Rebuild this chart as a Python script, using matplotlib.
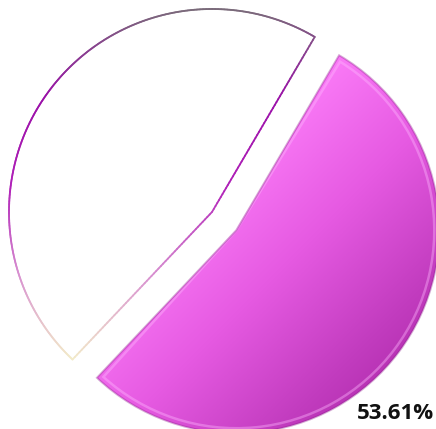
"""Круговая диаграмма: две доли, одна выдвинута."""

import numpy as np
import matplotlib
matplotlib.use("Agg")
import matplotlib.pyplot as plt
from matplotlib.colors import LinearSegmentedColormap
from matplotlib.collections import LineCollection
from matplotlib.patches import Wedge

# ── Данные ──────────────────────────────────────────────────────────────
labels = ["A", "B"]
values = [53.61, 46.39]
explode = [0.15, 0.0]

# ── Стиль ──────────────────────────────────────────────────────────────
FILL_CMAP = LinearSegmentedColormap.from_list(
    "fill", ["#fb7cf8", "#e65ae2", "#c23cbf", "#a21f9e"])
EDGE_CMAP = LinearSegmentedColormap.from_list(
    "edge", ["#f4f0c8", "#d890d0", "#b020b8", "#9a10a8", "#7a6a7a"])

W, H = 436, 429
fig = plt.figure(figsize=(W / 100, H / 100), dpi=100)
ax = fig.add_axes([0, 0, 1, 1])
ax.set_axis_off()

# масштаб: радиус 203 px, центр (212, 212) от верхнего левого угла
R = 203.0
wedges, _ = ax.pie(
    values, explode=explode, startangle=-133.4, counterclock=True,
    colors=["none", "white"], radius=1.0, center=(0, 0),
    wedgeprops={"linewidth": 0},
)
ax.set_xlim(-212 / R, (W - 212) / R)
ax.set_ylim(-(H - 212) / R, 212 / R)
ax.set_aspect("equal")

# Градиентная заливка выдвинутой доли
hi = wedges[0]
gx, gy = np.meshgrid(np.linspace(-1, 1, 300), np.linspace(-1, 1, 300))
grad = (gx - gy) / 2  # от левого верхнего к правому нижнему
cx, cy = hi.center
img = ax.imshow(grad, cmap=FILL_CMAP, extent=(cx - 1, cx + 1, cy - 1, cy + 1),
                origin="lower", vmin=-0.2, vmax=1.0, zorder=2)
img.set_clip_path(hi)

# Светлая «фаска» по краю
ax.add_patch(Wedge(hi.center, 0.975, hi.theta1 + 1.2, hi.theta2 - 1.2,
                   fill=False, edgecolor="#ffb8ff", linewidth=1.8,
                   alpha=0.4, zorder=3))
ax.add_patch(Wedge(hi.center, 1.0, hi.theta1, hi.theta2,
                   fill=False, edgecolor="#8a1a88", linewidth=1.4,
                   alpha=0.35, zorder=3))

# Контур белой доли с градиентом по высоте
lo = wedges[1]
t = np.radians(np.linspace(lo.theta1, lo.theta2, 200))
lx, ly = lo.center
arc = np.column_stack([lx + lo.r * np.cos(t), ly + lo.r * np.sin(t)])
verts = np.vstack([[lx, ly], arc, [lx, ly]])
# доуплотняем радиальные отрезки для плавного градиента
dense = []
for a, b in zip(verts[:-1], verts[1:]):
    n = max(2, int(np.hypot(*(b - a)) * 60))
    dense.append(np.linspace(a, b, n, endpoint=False))
dense = np.vstack(dense + [verts[-1:]])
segs = np.stack([dense[:-1], dense[1:]], axis=1)
mid_y = segs[:, :, 1].mean(axis=1)
lc = LineCollection(segs, cmap=EDGE_CMAP, linewidth=1.3, zorder=3,
                    capstyle="round")
lc.set_array(mid_y)
lc.set_clim(-0.75, 1.0)
ax.add_collection(lc)

# Подпись доли
ax.text(0.996, 0.012, f"{values[0]:.2f}%", transform=ax.transAxes,
        ha="right", va="bottom", fontsize=16, fontweight="bold",
        family="Open Sans", color="#111111", zorder=5)

fig.savefig("out.png", dpi=100, facecolor="white")
